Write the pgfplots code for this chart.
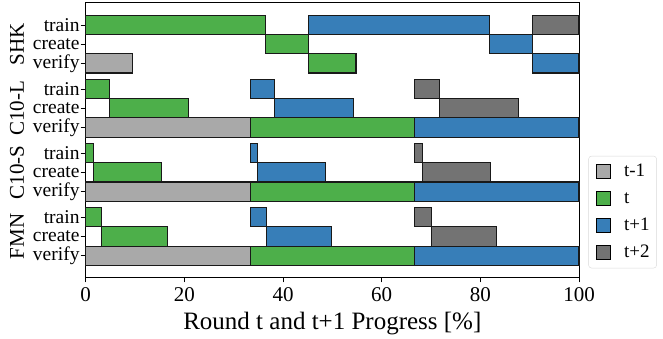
\documentclass[border=0pt]{standalone}
\usepackage{pgfplots}
\pgfplotsset{compat=1.18}
\usepackage{fontspec}
\setmainfont{Liberation Serif}
\usetikzlibrary{calc}
\definecolor{cprev}{HTML}{A9A9A9}
\definecolor{ccur}{HTML}{4DAF4A}
\definecolor{cnext}{HTML}{377EB8}
\definecolor{cnn}{HTML}{737373}
\tikzset{
  barP/.style={fill=cprev, draw=black!90, line width=1.1pt},
  barT/.style={fill=ccur, draw=black!90, line width=1.1pt},
  barN/.style={fill=cnext, draw=black!90, line width=1.1pt},
  barNN/.style={fill=cnn, draw=black!90, line width=1.1pt},
}
% \seg{start}{end}{ylow}{yhigh}{style}
\newcommand\seg[5]{\addplot[#5, forget plot] coordinates {(#1,#3) (#2,#3) (#2,#4) (#1,#4)} -- cycle;}
\begin{document}
\begin{tikzpicture}
\begin{axis}[
  at={(85.7pt,59.5pt)}, anchor=south west,
  scale only axis, width=493.3pt, height=274.8pt,
  xmin=0, xmax=100, ymin=-1.134, ymax=13.156,
  clip=false,
  axis line style={line width=0.8pt, black},
  tick style={line width=0.8pt, black},
  tick align=outside, major tick length=5pt,
  xtick={0,20,40,60,80,100},
  xtick pos=bottom, ytick pos=left,
  /pgf/number format/assume math mode=true,
  xticklabel style={font=\fontsize{21}{21}\selectfont, inner sep=0pt, yshift=-5pt},
  ytick={0,1,2,3.333,4.333,5.333,6.667,7.667,8.667,10,11,12},
  yticklabels={verify,create,train,verify,create,train,verify,create,train,verify,create,train},
  yticklabel style={font=\fontsize{19.5}{19.5}\selectfont, inner xsep=1pt},
  xlabel={Round t and t+1 Progress [\%]},
  xlabel style={font=\fontsize{25}{25}\selectfont, yshift=-7pt},
  legend style={at={(1.019,0.0335)}, anchor=south west, draw=black!15, rounded corners=3pt,
    font=\fontsize{19}{19}\selectfont, inner xsep=7pt, inner ysep=5pt, row sep=6pt,
    nodes={inner xsep=0pt, inner ysep=2pt, text height=13pt, text depth=4pt}},
  legend cell align=left,
  legend image code/.code={\draw[#1, sharp corners] (0pt,-7pt) rectangle (14pt,7pt); \path[draw=none, fill=none] (0pt,0pt) -- (28pt,0pt);},
]
\addlegendimage{fill=cprev, draw=black, line width=1pt}
\addlegendentry{t-1}
\addlegendimage{fill=ccur, draw=black, line width=1pt}
\addlegendentry{t}
\addlegendimage{fill=cnext, draw=black, line width=1pt}
\addlegendentry{t+1}
\addlegendimage{fill=cnn, draw=black, line width=1pt}
\addlegendentry{t+2}
% SHK
\seg{0}{36.5}{11.5}{12.5}{barT}
\seg{45.1}{81.8}{11.5}{12.5}{barN}
\seg{90.5}{100}{11.5}{12.5}{barNN}
\seg{36.5}{45.1}{10.5}{11.5}{barT}
\seg{81.8}{90.5}{10.5}{11.5}{barN}
\seg{0}{9.5}{9.5}{10.5}{barP}
\seg{45.1}{54.8}{9.5}{10.5}{barT}
\seg{90.5}{100}{9.5}{10.5}{barN}
% C10-L
\seg{0}{4.8}{8.167}{9.167}{barT}
\seg{33.33}{38.2}{8.167}{9.167}{barN}
\seg{66.67}{71.7}{8.167}{9.167}{barNN}
\seg{4.8}{20.9}{7.167}{8.167}{barT}
\seg{38.2}{54.3}{7.167}{8.167}{barN}
\seg{71.7}{87.7}{7.167}{8.167}{barNN}
\seg{0}{33.33}{6.167}{7.167}{barP}
\seg{33.33}{66.67}{6.167}{7.167}{barT}
\seg{66.67}{100}{6.167}{7.167}{barN}
% C10-S
\seg{0}{1.5}{4.833}{5.833}{barT}
\seg{33.33}{34.8}{4.833}{5.833}{barN}
\seg{66.67}{68.2}{4.833}{5.833}{barNN}
\seg{1.5}{15.3}{3.833}{4.833}{barT}
\seg{34.8}{48.6}{3.833}{4.833}{barN}
\seg{68.2}{82.1}{3.833}{4.833}{barNN}
\seg{0}{33.33}{2.833}{3.833}{barP}
\seg{33.33}{66.67}{2.833}{3.833}{barT}
\seg{66.67}{100}{2.833}{3.833}{barN}
% FMN
\seg{0}{3.2}{1.5}{2.5}{barT}
\seg{33.33}{36.6}{1.5}{2.5}{barN}
\seg{66.67}{70.1}{1.5}{2.5}{barNN}
\seg{3.2}{16.5}{0.5}{1.5}{barT}
\seg{36.6}{49.9}{0.5}{1.5}{barN}
\seg{70.1}{83.3}{0.5}{1.5}{barNN}
\seg{0}{33.33}{-0.5}{0.5}{barP}
\seg{33.33}{66.67}{-0.5}{0.5}{barT}
\seg{66.67}{100}{-0.5}{0.5}{barN}
% group labels
\node[rotate=90, anchor=base, font=\fontsize{21}{21}\selectfont] at ($(axis cs:0,11)+(-61.7pt,0pt)$) {SHK};
\node[rotate=90, anchor=base, font=\fontsize{21}{21}\selectfont] at ($(axis cs:0,7.667)+(-61.7pt,0pt)$) {C10-L};
\node[rotate=90, anchor=base, font=\fontsize{21}{21}\selectfont] at ($(axis cs:0,4.333)+(-61.7pt,0pt)$) {C10-S};
\node[rotate=90, anchor=base, font=\fontsize{21}{21}\selectfont] at ($(axis cs:0,1)+(-61.7pt,0pt)$) {FMN};
\end{axis}
\path (0,0) rectangle (663pt,337pt);
\end{tikzpicture}
\end{document}
